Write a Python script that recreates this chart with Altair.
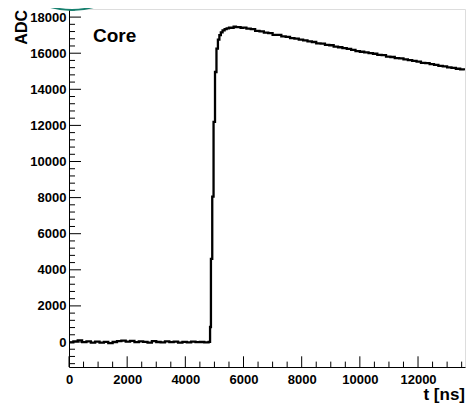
import altair as alt
import pandas as pd

# waveform samples (t in ns, ADC counts)
t_vals = [0, 150, 300, 450, 600, 750, 900, 1050, 1200, 1350, 1500, 1650, 1800, 1950,
          2100, 2250, 2400, 2550, 2700, 2850, 3000, 3150, 3300, 3450, 3600, 3750, 3900,
          4050, 4200, 4350, 4500, 4650, 4800,
          4850, 4880, 4925, 4970, 5020, 5070, 5120, 5170, 5220, 5280, 5350, 5420, 5500,
          5580, 5660, 5740, 5820, 5900, 5980,
          6100, 6250, 6400, 6550, 6700, 6850, 7000, 7150, 7300, 7450, 7600, 7750, 7900,
          8050, 8200, 8350, 8500, 8650, 8800, 8950, 9100, 9250, 9400, 9550, 9700, 9850,
          10000, 10150, 10300, 10450, 10600, 10750, 10900, 11050, 11200, 11350, 11500,
          11650, 11800, 11950, 12100, 12250, 12400, 12550, 12700, 12850, 13000, 13150,
          13300, 13450, 13600]
adc_vals = [-20, 40, 90, -10, 30, -40, 20, -30, 10, -60, 0, 50, 80, 20,
            60, -10, 40, 10, -30, 50, 0, -20, 30, -10, 20, -30, 10,
            -20, 20, -10, 0, -20, 10,
            830, 4600, 8050, 12190, 14960, 16250, 16750, 17000, 17150, 17260, 17330, 17380, 17420,
            17400, 17470, 17440, 17450, 17400, 17420,
            17360, 17330, 17240, 17210, 17140, 17110, 17020, 17010, 16930, 16910, 16830, 16810, 16750,
            16710, 16650, 16620, 16550, 16530, 16460, 16440, 16370, 16330, 16280, 16240, 16190, 16110,
            16080, 16050, 16000, 15970, 15910, 15890, 15810, 15790, 15730, 15710, 15660,
            15620, 15570, 15530, 15460, 15450, 15390, 15350, 15300, 15270, 15210, 15190,
            15140, 15100, 15060]

y_major = [0, 2000, 4000, 6000, 8000, 10000, 12000, 14000, 16000, 18000]
y_minor = [-1200, -800, -400, 400, 800, 1200, 1600, 2400, 2800, 3200, 3600, 4400, 4800,
           5200, 5600, 6400, 6800, 7200, 7600, 8400, 8800, 9200, 9600, 10400, 10800, 11200,
           11600, 12400, 12800, 13200, 13600, 14400, 14800, 15200, 15600, 16400, 16800,
           17200, 17600, 18400]
x_major = [0, 2000, 4000, 6000, 8000, 10000, 12000]
x_minor = [500, 1000, 1500, 2500, 3000, 3500, 4500, 5000, 5500, 6500, 7000, 7500, 8500,
           9000, 9500, 10500, 11000, 11500, 12500, 13000, 13500]

X_DOMAIN = [0, 13615]
Y_DOMAIN = [-1385, 18449]
W, H = 396, 358
FONT = "Liberation Sans"

df = pd.DataFrame({"t": t_vals, "adc": adc_vals})
xs = alt.Scale(domain=X_DOMAIN, nice=False, zero=False)
ys = alt.Scale(domain=Y_DOMAIN, nice=False, zero=False)

x_axis = alt.Axis(values=x_major, format="d", ticks=False, grid=False, title=None, domainColor="black",
                  domainWidth=1, labelFont=FONT, labelFontWeight="bold", labelFontSize=13,
                  labelColor="black", labelPadding=6, labelFlush=False)
y_axis = alt.Axis(values=y_major, format="d", ticks=False, grid=False, title=None, domainColor="black",
                  domainWidth=1, labelFont=FONT, labelFontWeight="bold", labelFontSize=13,
                  labelColor="black", labelPadding=3, labelFlush=False)

line = alt.Chart(df).mark_line(interpolate="step-after", color="black", strokeWidth=2.3, clip=True).encode(
    x=alt.X("t:Q", scale=xs, axis=x_axis),
    y=alt.Y("adc:Q", scale=ys, axis=y_axis),
)

ymaj = alt.Chart(pd.DataFrame({"adc": y_major})).mark_rule(color="black", strokeWidth=1).encode(
    y=alt.Y("adc:Q", scale=ys, axis=y_axis), x=alt.value(0), x2=alt.value(12))
ymin = alt.Chart(pd.DataFrame({"adc": y_minor})).mark_rule(color="black", strokeWidth=1).encode(
    y=alt.Y("adc:Q", scale=ys, axis=y_axis), x=alt.value(0), x2=alt.value(6))
xmaj = alt.Chart(pd.DataFrame({"t": x_major})).mark_rule(color="black", strokeWidth=1).encode(
    x=alt.X("t:Q", scale=xs, axis=x_axis), y=alt.value(H), y2=alt.value(H - 10.7))
xmin = alt.Chart(pd.DataFrame({"t": x_minor})).mark_rule(color="black", strokeWidth=1).encode(
    x=alt.X("t:Q", scale=xs, axis=x_axis), y=alt.value(H), y2=alt.value(H - 5.4))

core = alt.Chart(pd.DataFrame({"s": ["Core"]})).mark_text(
    font=FONT, fontWeight="bold", fontSize=19, align="left", baseline="alphabetic", color="black"
).encode(text="s:N", x=alt.value(24), y=alt.value(33))

ytitle = alt.Chart(pd.DataFrame({"s": ["ADC"]})).mark_text(
    font=FONT, fontWeight="bold", fontSize=16, align="right", baseline="alphabetic", angle=270, color="black"
).encode(text="s:N", x=alt.value(-42), y=alt.value(1))

xtitle = alt.Chart(pd.DataFrame({"s": ["t [ns]"]})).mark_text(
    font=FONT, fontWeight="bold", fontSize=17, align="right", baseline="alphabetic", color="black"
).encode(text="s:N", x=alt.value(W), y=alt.value(391))

circle = alt.Chart(pd.DataFrame({"s": [1]})).mark_point(
    shape="circle", filled=False, size=24964, stroke="#17806f", strokeWidth=2, opacity=1
).encode(x=alt.value(3), y=alt.value(-78))

chart = alt.layer(line, ymaj, ymin, xmaj, xmin, core, ytitle, xtitle, circle).properties(
    width=W, height=H,
    autosize=alt.AutoSizeParams(type="none"),
    padding={"left": 61, "top": 1, "right": 1, "bottom": 36},
).configure_view(stroke="#555555", strokeWidth=1).configure(background="white")

chart.save("out.html", embed_options={"renderer": "svg", "actions": False})
